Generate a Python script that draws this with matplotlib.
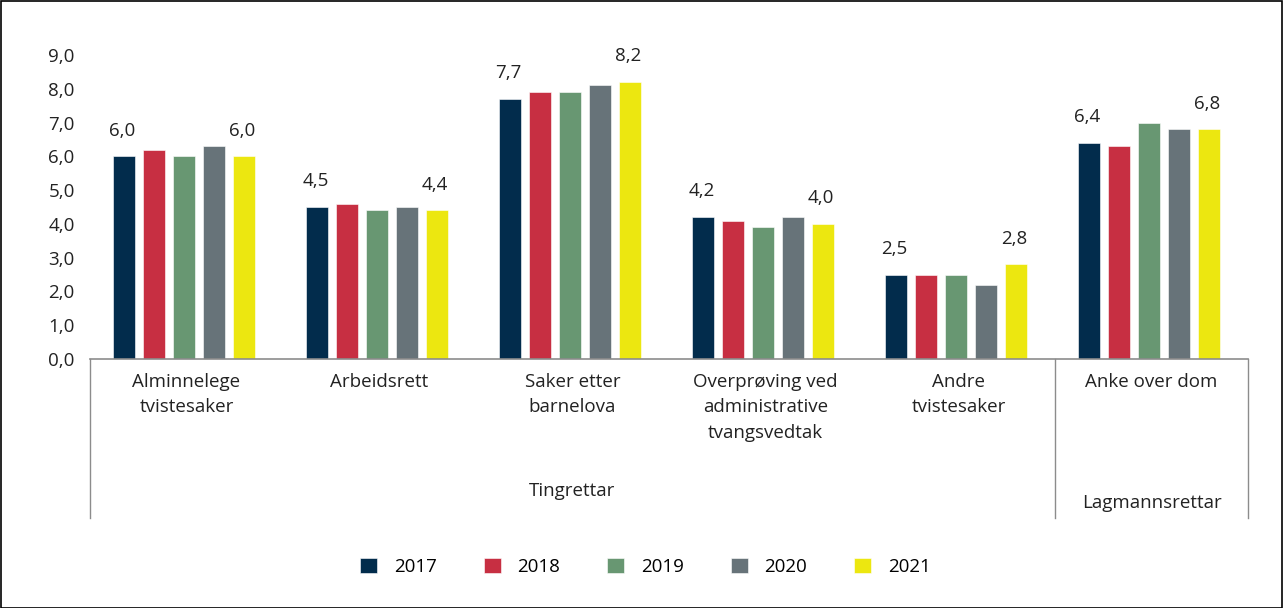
import matplotlib
matplotlib.use("Agg")
import matplotlib.pyplot as plt
import matplotlib.transforms as mtrans
from matplotlib.patches import Rectangle
import numpy as np

categories = ["Alminnelege\ntvistesaker", "Arbeidsrett", "Saker etter\nbarnelova",
              "Overprøving ved\nadministrative\ntvangsvedtak", "Andre\ntvistesaker", "Anke over dom"]
years = ["2017", "2018", "2019", "2020", "2021"]
values = {
    "2017": [6.0, 4.5, 7.7, 4.2, 2.5, 6.4],
    "2018": [6.2, 4.6, 7.9, 4.1, 2.5, 6.3],
    "2019": [6.0, 4.4, 7.9, 3.9, 2.5, 7.0],
    "2020": [6.3, 4.5, 8.1, 4.2, 2.2, 6.8],
    "2021": [6.0, 4.4, 8.2, 4.0, 2.8, 6.8],
}
groups = [("Tingrettar", 0, 4), ("Lagmannsrettar", 5, 5)]
yticks = [0, 1, 2, 3, 4, 5, 6, 7, 8, 9]
colors = ["#022C4C", "#C72F42", "#689772", "#677379", "#ECE710"]

plt.rcParams['font.family'] = ['Open Sans', 'DejaVu Sans']
FS = 13.5

fig = plt.figure(figsize=(12.83, 6.08), dpi=100)
ax = fig.add_axes([90/1283, 1-359/608, (1248-90)/1283, 304/608])

x = np.arange(len(categories))
pitch = 0.155
width = 0.115
for i, y in enumerate(years):
    offs = (i - 2) * pitch - 0.012
    ax.bar(x + offs, values[y], width=width, color=colors[i], label=y,
           edgecolor="white", linewidth=0.4)
    if i in (0, len(years) - 1):
        for xi, v in zip(x + offs, values[y]):
            ax.annotate(f"{v:.1f}".replace(".", ","), (xi - 0.01, v), xytext=(0, 12),
                        textcoords="offset points", ha="center", va="bottom",
                        fontsize=FS, color="#222222")

ax.set_xlim(-0.5, 5.5)
ax.set_ylim(0, 9)
ax.set_yticks(yticks)
ax.set_yticklabels([f"{t:.1f}".replace(".", ",") for t in yticks], fontsize=FS, color="#222222")
ax.tick_params(axis="y", length=0, pad=11)
ax.set_xticks([])
for s in ["top", "right", "left"]:
    ax.spines[s].set_visible(False)
ax.spines["bottom"].set_color("#8c8c8c")
ax.spines["bottom"].set_linewidth(1.2)

trans = mtrans.blended_transform_factory(ax.transData, ax.transAxes)
for xi, c in zip(x, categories):
    ax.text(xi, -0.045, c, transform=trans, ha="center", va="top", fontsize=FS,
            color="#222222", linespacing=1.55)
for xd in [-0.5, 4.5, 5.5]:
    ax.plot([xd, xd], [0, -0.523], transform=trans, color="#8c8c8c", lw=1.0, clip_on=False)
for name, a, b in groups:
    cx = (a + b) / 2
    ypix = 491 if name == "Tingrettar" else 503
    ax.text(cx, (359 - ypix) / 304, name, transform=trans, ha="center", va="center",
            fontsize=FS, color="#222222")

fig.legend(loc="center", bbox_to_anchor=(0.503, 1 - 567/608), ncol=5, frameon=False,
           fontsize=FS, handlelength=0.9, handleheight=0.9, columnspacing=2.5,
           handletextpad=0.9)

fig.add_artist(Rectangle((0.0008, 0.0), 0.9984, 0.9985, transform=fig.transFigure,
                         fill=False, edgecolor="black", lw=1.2))

fig.savefig("out.png", dpi=100)
